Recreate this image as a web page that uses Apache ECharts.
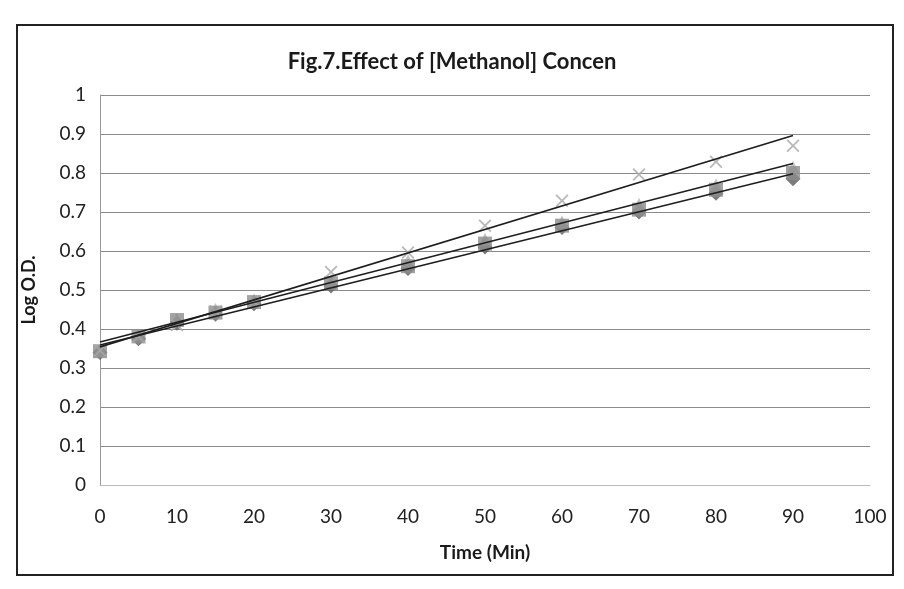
<!DOCTYPE html>
<html>
<head>
<meta charset="utf-8">
<script src="https://cdn.jsdelivr.net/npm/echarts@6/dist/echarts.min.js"></script>
<style>
  html, body { margin: 0; padding: 0; background: #fff; }
  #chart { position: absolute; left: 0; top: 0; width: 904px; height: 589px; }
  #frame { position: absolute; left: 16px; top: 24px; width: 874px; height: 548px; border: 2px solid #222; pointer-events: none; }
</style>
</head>
<body>
<div id="chart"></div>
<div id="frame"></div>
<script>
// ---- data ----
const timeMin = [0, 5, 10, 15, 20, 30, 40, 50, 60, 70, 80, 90];
const seriesDiamond = [0.340, 0.375, 0.415, 0.438, 0.465, 0.510, 0.555, 0.610, 0.660, 0.700, 0.748, 0.785];
const seriesSquare  = [0.343, 0.381, 0.423, 0.442, 0.469, 0.517, 0.561, 0.619, 0.665, 0.706, 0.757, 0.800];
const seriesTriangle= [0.345, 0.385, 0.425, 0.450, 0.475, 0.525, 0.575, 0.630, 0.675, 0.720, 0.770, 0.815];
const seriesCross   = [0.345, 0.380, 0.410, 0.445, 0.470, 0.546, 0.596, 0.665, 0.729, 0.796, 0.829, 0.870];
const titleText = 'Fig.7.Effect of [Methanol] Concen';
const xName = 'Time (Min)';
const yName = 'Log O.D.';

function pairs(ys) { return timeMin.map((t, i) => [t, ys[i]]); }
function trend(ys) {
  const n = timeMin.length;
  let sx = 0, sy = 0, sxx = 0, sxy = 0;
  for (let i = 0; i < n; i++) { sx += timeMin[i]; sy += ys[i]; sxx += timeMin[i] * timeMin[i]; sxy += timeMin[i] * ys[i]; }
  const b = (n * sxy - sx * sy) / (n * sxx - sx * sx);
  const a = (sy - b * sx) / n;
  const x0 = timeMin[0], x1 = timeMin[n - 1];
  return [[x0, a + b * x0], [x1, a + b * x1]];
}

const FONT = 'Lato';
const crossPath = 'path://M0,1L1,0L5,4L9,0L10,1L6,5L10,9L9,10L5,6L1,10L0,9L4,5Z';

function trendSeries(ys) {
  return {
    type: 'line', data: trend(ys), symbol: 'none', silent: true, z: 5,
    lineStyle: { color: '#1e1e1e', width: 1.6 }
  };
}

const chart = echarts.init(document.getElementById('chart'), null, { renderer: 'canvas' });
chart.setOption({
  animation: false,
  backgroundColor: '#fff',
  title: {
    text: titleText, left: 'center', top: 46,
    textStyle: { fontFamily: FONT, fontSize: 22, fontWeight: 'bold', color: '#1a1a1a' }
  },
  grid: { left: 100, right: 34, top: 95, bottom: 104 },
  xAxis: {
    type: 'value', min: 0, max: 100, interval: 10,
    name: xName, nameLocation: 'middle', nameGap: 58,
    nameTextStyle: { fontFamily: FONT, fontSize: 19, fontWeight: 'bold', color: '#1a1a1a' },
    axisLine: { show: true, lineStyle: { color: '#bbb', width: 1 } },
    axisTick: { show: false },
    axisLabel: { margin: 22, fontFamily: FONT, fontSize: 19, color: '#222' },
    splitLine: { show: false }
  },
  yAxis: {
    type: 'value', min: 0, max: 1, interval: 0.1,
    name: yName, nameLocation: 'middle', nameGap: 62, nameRotate: 90,
    nameTextStyle: { fontFamily: FONT, fontSize: 18, fontWeight: 'bold', color: '#1a1a1a' },
    axisLine: { show: true, lineStyle: { color: '#999', width: 1 } },
    axisTick: { show: false },
    axisLabel: { margin: 14, fontFamily: FONT, fontSize: 19, color: '#222',
      formatter: v => String(Math.round(v * 10) / 10) },
    splitLine: { show: true, lineStyle: { color: '#8a8a8a', width: 1 } }
  },
  series: [
    { name: 'Diamond', type: 'scatter', data: pairs(seriesDiamond), symbol: 'diamond', symbolSize: 15, z: 3,
      itemStyle: { color: '#5a5a5a' } },
    { name: 'Triangle', type: 'scatter', data: pairs(seriesTriangle), symbol: 'triangle', symbolSize: 13, z: 3,
      itemStyle: { color: '#b5b5b5' } },
    { name: 'Square', type: 'scatter', data: pairs(seriesSquare), symbol: 'rect', symbolSize: 14, z: 4,
      itemStyle: { color: '#8c8c8c' } },
    { name: 'Cross', type: 'scatter', data: pairs(seriesCross), symbol: crossPath, symbolSize: 13, z: 4,
      itemStyle: { color: '#a8a8a8' } },
    trendSeries(seriesDiamond),
    trendSeries(seriesTriangle),
    trendSeries(seriesCross)
  ]
});
</script>
</body>
</html>
